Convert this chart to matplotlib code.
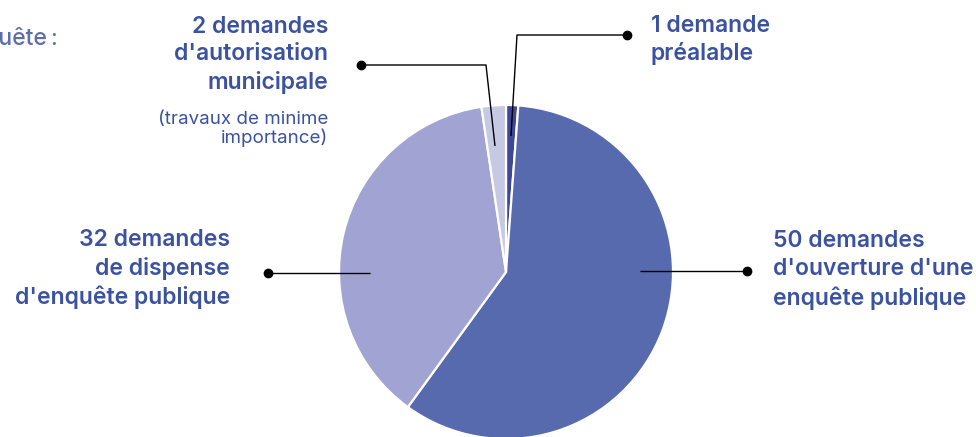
import matplotlib.pyplot as plt

# Data
labels = [
    "1 demande\npréalable",
    "50 demandes\nd'ouverture d'une\nenquête publique",
    "32 demandes\nde dispense\nd'enquête publique",
    "2 demandes\nd'autorisation\nmunicipale",
]
values = [1, 50, 32, 2]
colors = ["#3f4894", "#576aae", "#a1a4d2", "#c6c9e3"]

text_color = "#3b52a0"
W, H = 976, 437

plt.rcParams["font.family"] = ["Inter", "DejaVu Sans"]

fig = plt.figure(figsize=(W / 100, H / 100), dpi=100)
ax = fig.add_axes([0, 0, 1, 1])

def py(y):
    # pixel row (from top) -> data y
    return H - y

cx, cy, r = 506, py(272), 167
ax.pie(values, colors=colors, startangle=90, counterclock=False,
       center=(cx, cy), radius=r,
       wedgeprops=dict(edgecolor="white", linewidth=1.6))

ax.set_xlim(0, W)
ax.set_ylim(0, H)
ax.set_aspect("equal")
ax.axis("off")

# Leader lines with a dot on the label end
def leader(pts):
    xs = [p[0] for p in pts]
    ys = [py(p[1]) for p in pts]
    ax.plot(xs, ys, color="black", lw=1.0, solid_capstyle="butt", zorder=5)
    ax.plot(xs[0], ys[0], "o", color="black", ms=6, zorder=6)

leader([(627, 35), (517, 35), (511, 136)])
leader([(361, 65), (486, 65), (495, 146)])
leader([(747, 271), (640, 271)])
leader([(268, 273), (370, 273)])

fs = 16.5
lsp = 1.33
kw = dict(va="center", fontsize=fs, fontweight="semibold",
          color=text_color, linespacing=lsp)
ax.text(651, py(40), labels[0], ha="left", **kw)
ax.text(773, py(270), labels[1], ha="left", **kw)
ax.text(230, py(269), labels[2], ha="right", **kw)
ax.text(328, py(55), labels[3], ha="right", **kw)
ax.text(328, py(129), "(travaux de minime\nimportance)", ha="right",
        va="center", fontsize=13.5, color=text_color, linespacing=1.1)

# heading cut off at the left edge, as in the source
ax.text(58, py(38), "enquête\u2009:", ha="right", va="center", fontsize=16.5,
        fontweight="medium", color="#5d6ea9")

fig.savefig("out.png", dpi=100)
